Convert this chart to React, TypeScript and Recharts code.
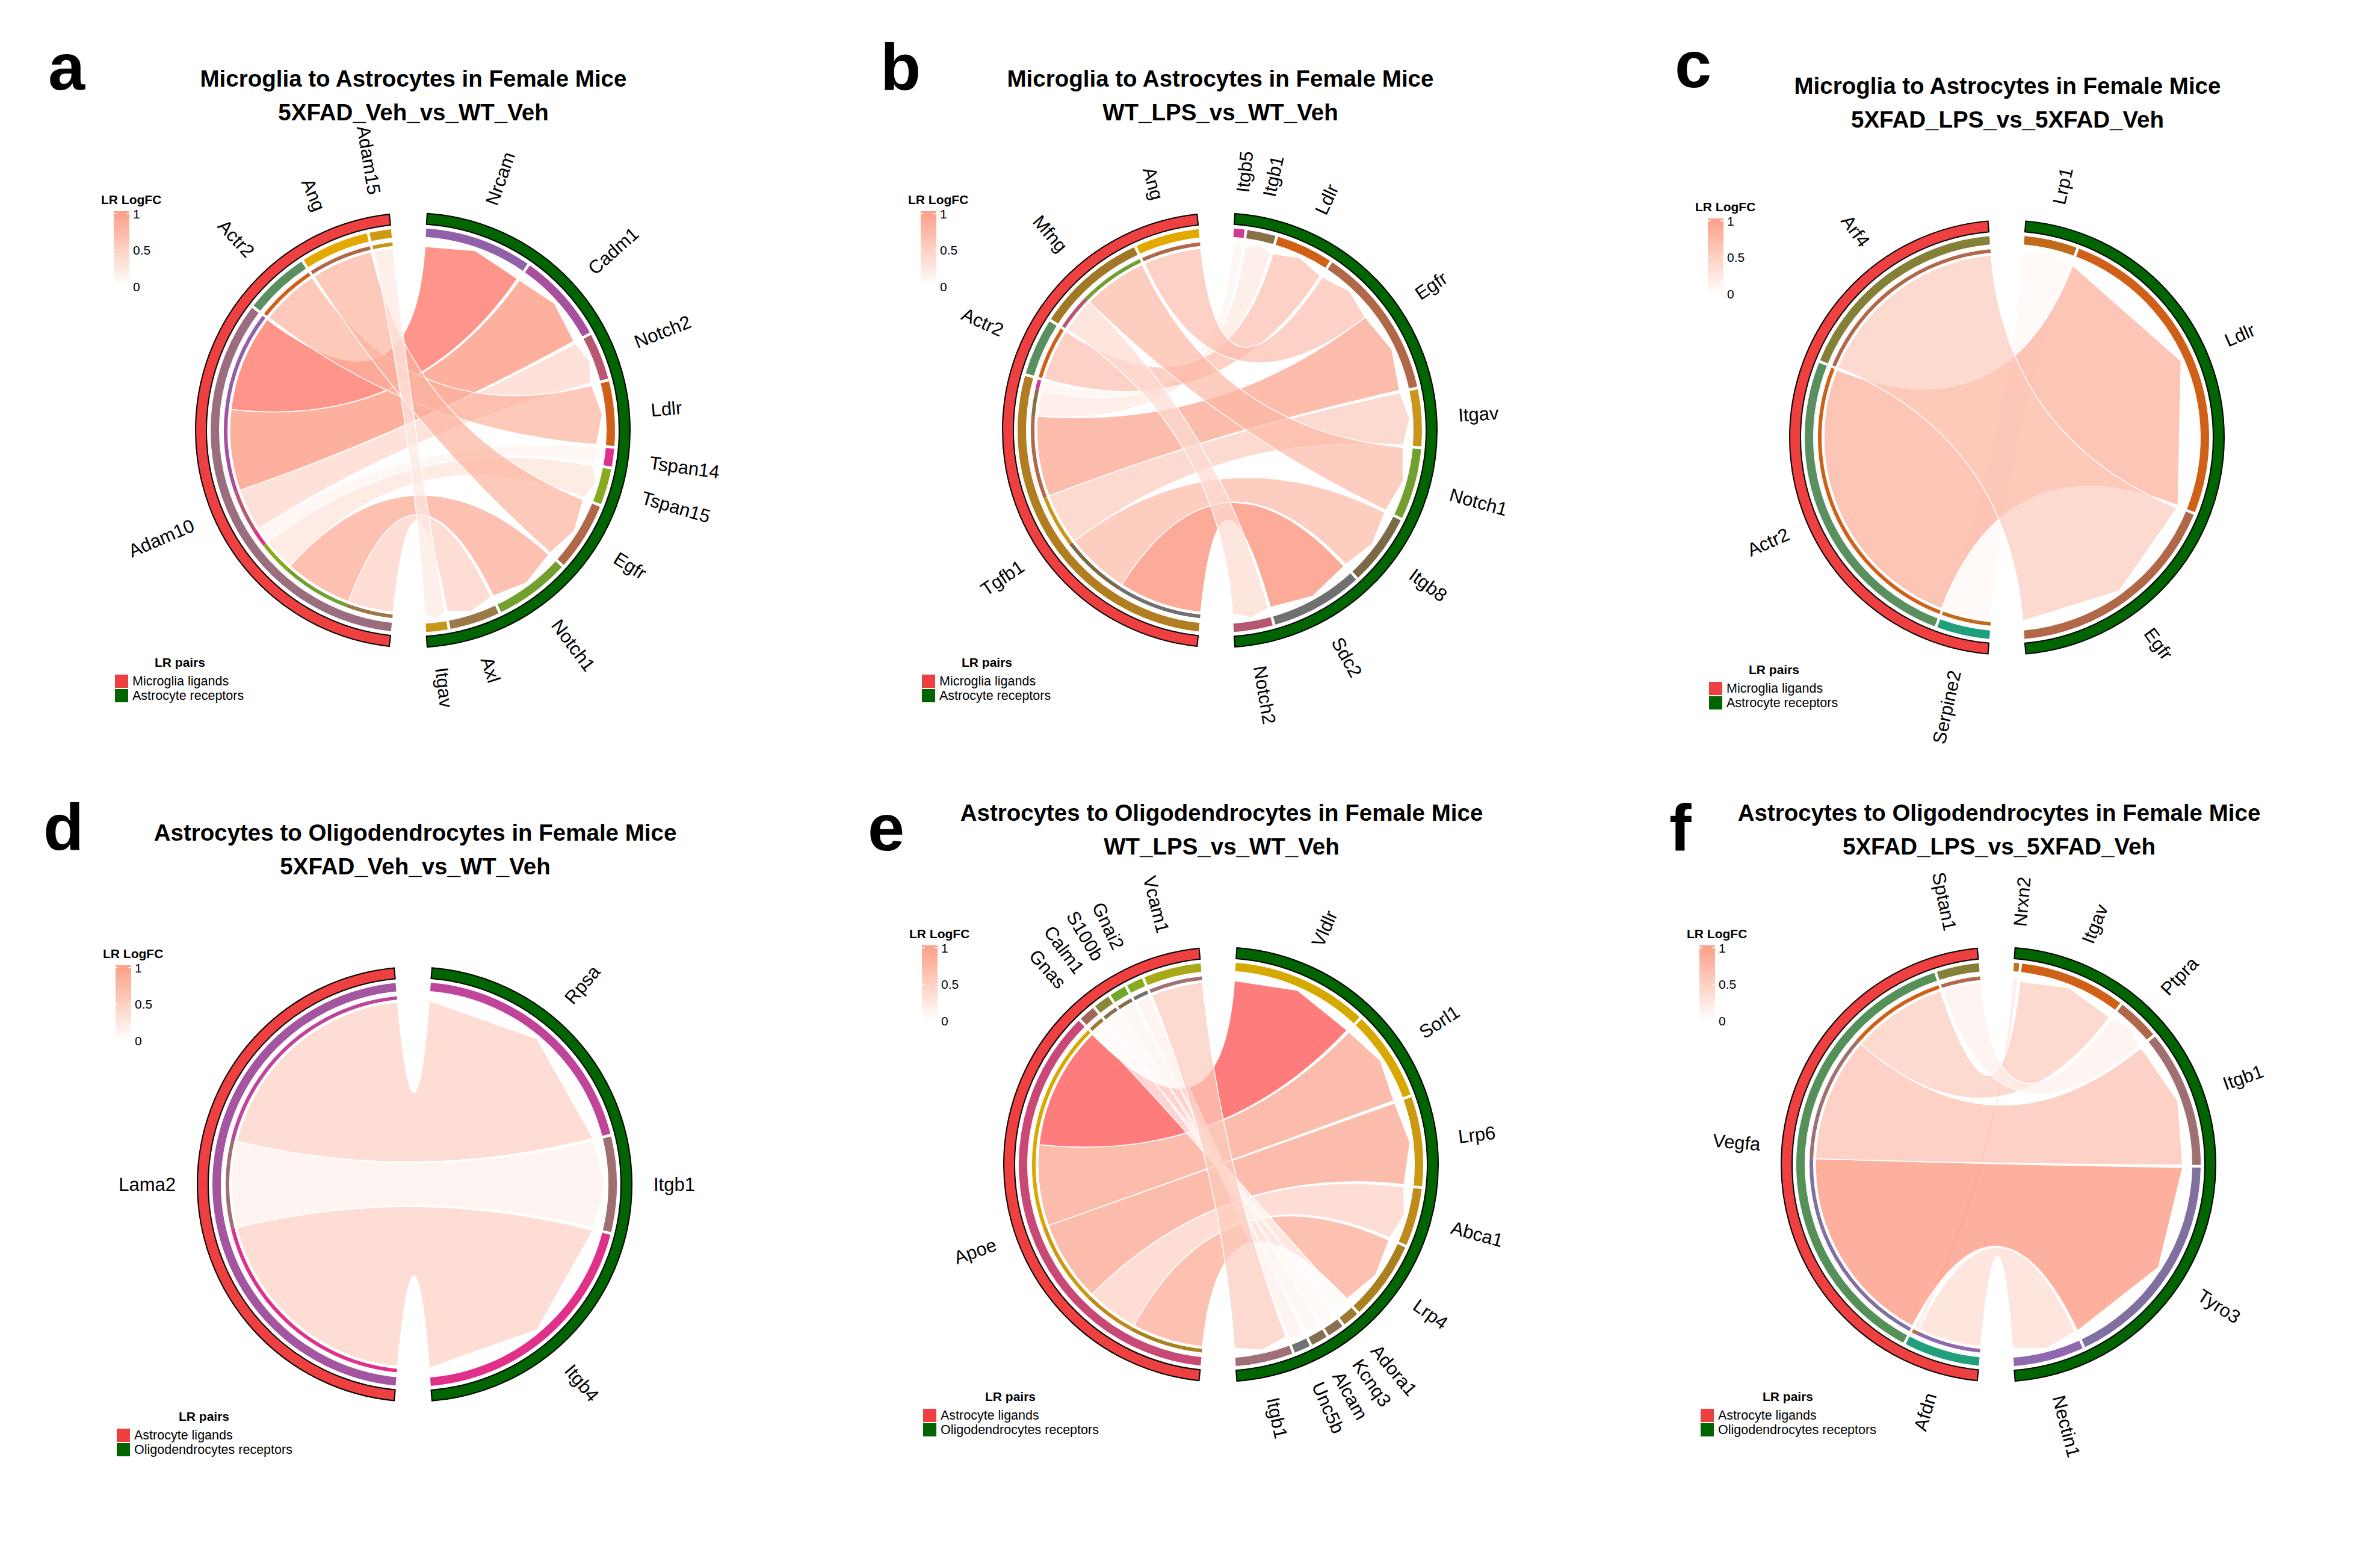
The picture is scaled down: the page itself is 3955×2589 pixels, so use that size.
import React from "react";
import { PieChart, Pie, Cell, Customized } from "recharts";

type Link = [string, string, number, number]; // ligand, receptor, width, LR logFC

const FONT = '"Liberation Sans", Arial, Helvetica, sans-serif';

// ---- a: Microglia -> Astrocytes, 5XFAD_Veh_vs_WT_Veh
const aLigands = ["Adam10", "Actr2", "Ang", "Adam15"];
const aLigandColors = ["#9A6E7E", "#5A9060", "#E3A900", "#D09A10"];
const aReceptors = ["Nrcam", "Cadm1", "Notch2", "Ldlr", "Tspan14", "Tspan15", "Egfr", "Notch1", "Axl", "Itgav"];
const aReceptorColors = ["#9060A8", "#A850A0", "#B85870", "#D06018", "#E0308A", "#88AA20", "#B06848", "#72A030", "#9A7A48", "#C8961A"];
const aLinks: Link[] = [
  ["Adam10", "Nrcam", 30, 1.5],
  ["Adam10", "Cadm1", 25, 0.95],
  ["Adam10", "Notch2", 13, 0.35],
  ["Adam10", "Tspan14", 5, 0.1],
  ["Adam10", "Tspan15", 10, 0.25],
  ["Adam10", "Notch1", 21, 0.75],
  ["Adam10", "Axl", 14, 0.4],
  ["Actr2", "Ldlr", 18, 0.65],
  ["Ang", "Egfr", 19, 0.65],
  ["Adam15", "Itgav", 6, 0.2],
];

// ---- b: Microglia -> Astrocytes, WT_LPS_vs_WT_Veh
const bLigands = ["Tgfb1", "Actr2", "Mfng", "Ang"];
const bLigandColors = ["#B07D20", "#5A9060", "#A07828", "#E3A900"];
const bReceptors = ["Itgb5", "Itgb1", "Ldlr", "Egfr", "Itgav", "Notch1", "Itgb8", "Sdc2", "Notch2"];
const bReceptorColors = ["#D03A90", "#8A7048", "#D06018", "#B06848", "#C8961A", "#72A030", "#7A6A48", "#707070", "#B85870"];
const bLinks: Link[] = [
  ["Tgfb1", "Sdc2", 26, 1.0],
  ["Tgfb1", "Itgb8", 20, 0.6],
  ["Tgfb1", "Itgav", 16, 0.45],
  ["Tgfb1", "Egfr", 25, 0.8],
  ["Tgfb1", "Itgb1", 8, 0.2],
  ["Tgfb1", "Itgb5", 3, 0.1],
  ["Actr2", "Ldlr", 16, 0.55],
  ["Mfng", "Notch2", 11, 0.3],
  ["Mfng", "Notch1", 20, 0.6],
  ["Ang", "Egfr", 18, 0.55],
];

// ---- c: Microglia -> Astrocytes, 5XFAD_LPS_vs_5XFAD_Veh
const cLigands = ["Serpine2", "Actr2", "Arf4"];
const cLigandColors = ["#1FA07A", "#5A9060", "#858038"];
const cReceptors = ["Lrp1", "Ldlr", "Egfr"];
const cReceptorColors = ["#C06A1A", "#D06018", "#B06848"];
const cLinks: Link[] = [
  ["Serpine2", "Lrp1", 15, 0.08],
  ["Actr2", "Ldlr", 90, 0.7],
  ["Arf4", "Egfr", 62, 0.45],
];

// ---- d: Astrocytes -> Oligodendrocytes, 5XFAD_Veh_vs_WT_Veh
const dLigands = ["Lama2"];
const dLigandColors = ["#A455A0"];
const dReceptors = ["Rpsa", "Itgb1", "Itgb4"];
const dReceptorColors = ["#C0459A", "#A07070", "#E0308A"];
const dLinks: Link[] = [
  ["Lama2", "Itgb4", 70, 0.4],
  ["Lama2", "Itgb1", 27, 0.12],
  ["Lama2", "Rpsa", 70, 0.4],
];

// ---- e: Astrocytes -> Oligodendrocytes, WT_LPS_vs_WT_Veh
const eLigands = ["Apoe", "Gnas", "Calm1", "S100b", "Gnai2", "Vcam1"];
const eLigandColors = ["#C84876", "#A06858", "#8A8838", "#70A828", "#88AA20", "#A8A818"];
const eReceptors = ["Vldlr", "Sorl1", "Lrp6", "Abca1", "Lrp4", "Adora1", "Kcnq3", "Alcam", "Unc5b", "Itgb1"];
const eReceptorColors = ["#D4AA00", "#D8A800", "#CC9A10", "#C08A1A", "#A8801E", "#A07830", "#887050", "#807050", "#707070", "#A07078"];
const eLinks: Link[] = [
  ["Apoe", "Lrp4", 22, 0.75],
  ["Apoe", "Abca1", 16, 0.4],
  ["Apoe", "Lrp6", 25, 0.8],
  ["Apoe", "Sorl1", 25, 0.8],
  ["Apoe", "Vldlr", 38, 2.0],
  ["Gnas", "Adora1", 4.5, 0.05],
  ["Calm1", "Kcnq3", 4.5, 0.08],
  ["S100b", "Alcam", 4.5, 0.1],
  ["Gnai2", "Unc5b", 4.5, 0.12],
  ["Vcam1", "Itgb1", 16, 0.45],
];

// ---- f: Astrocytes -> Oligodendrocytes, 5XFAD_LPS_vs_5XFAD_Veh
const fLigands = ["Afdn", "Vegfa", "Sptan1"];
const fLigandColors = ["#1FA07A", "#559058", "#858038"];
const fReceptors = ["Nrxn2", "Itgav", "Ptpra", "Itgb1", "Tyro3", "Nectin1"];
const fReceptorColors = ["#C07020", "#D06018", "#B06848", "#A07070", "#8070A0", "#9068B0"];
const fLinks: Link[] = [
  ["Afdn", "Nectin1", 20, 0.3],
  ["Afdn", "Nrxn2", 1.5, 0.2],
  ["Vegfa", "Tyro3", 63, 0.95],
  ["Vegfa", "Itgb1", 39, 0.55],
  ["Vegfa", "Itgav", 30, 0.45],
  ["Sptan1", "Ptpra", 12, 0.12],
];

const microgliaLegend = ["Microglia ligands", "Astrocyte receptors"];
const astroLegend = ["Astrocyte ligands", "Oligodendrocytes receptors"];
const logfcTicks = [1, 0.5, 0];

const panels = [
  { id: "a", cx: 686, cy: 715, lx: 80, ly: 149, title: "Microglia to Astrocytes in Female Mice", sub: "5XFAD_Veh_vs_WT_Veh", ligands: aLigands, ligandColors: aLigandColors, receptors: aReceptors, receptorColors: aReceptorColors, links: aLinks, legend: microgliaLegend, legendMid: -387 },
  { id: "b", cx: 2027, cy: 715, lx: 1463, ly: 149, title: "Microglia to Astrocytes in Female Mice", sub: "WT_LPS_vs_WT_Veh", ligands: bLigands, ligandColors: bLigandColors, receptors: bReceptors, receptorColors: bReceptorColors, links: bLinks, legend: microgliaLegend, legendMid: -387 },
  { id: "c", cx: 3335, cy: 727, lx: 2783, ly: 145, title: "Microglia to Astrocytes in Female Mice", sub: "5XFAD_LPS_vs_5XFAD_Veh", ligands: cLigands, ligandColors: cLigandColors, receptors: cReceptors, receptorColors: cReceptorColors, links: cLinks, legend: microgliaLegend, legendMid: -387 },
  { id: "d", cx: 689, cy: 1968, lx: 72, ly: 1412, title: "Astrocytes to Oligodendrocytes in Female Mice", sub: "5XFAD_Veh_vs_WT_Veh", ligands: dLigands, ligandColors: dLigandColors, receptors: dReceptors, receptorColors: dReceptorColors, links: dLinks, legend: astroLegend, legendMid: -350 },
  { id: "e", cx: 2029, cy: 1935, lx: 1442, ly: 1413, title: "Astrocytes to Oligodendrocytes in Female Mice", sub: "WT_LPS_vs_WT_Veh", ligands: eLigands, ligandColors: eLigandColors, receptors: eReceptors, receptorColors: eReceptorColors, links: eLinks, legend: astroLegend, legendMid: -350 },
  { id: "f", cx: 3321, cy: 1935, lx: 2774, ly: 1413, title: "Astrocytes to Oligodendrocytes in Female Mice", sub: "5XFAD_LPS_vs_5XFAD_Veh", ligands: fLigands, ligandColors: fLigandColors, receptors: fReceptors, receptorColors: fReceptorColors, links: fLinks, legend: astroLegend, legendMid: -350 },
];

const BIG_GAP = 10;
const SMALL_GAP = 0.8;
const LIG_RED = "#EE4040";
const REC_GREEN = "#006400";

// compass angle (0 = 12 o'clock, clockwise)
const polar = (cx: number, cy: number, r: number, t: number) => [
  cx + r * Math.sin((t * Math.PI) / 180),
  cy - r * Math.cos((t * Math.PI) / 180),
];

function layoutPanel(p: any) {
  const W = p.links.reduce((s: number, l: Link) => s + l[2], 0);
  const nGaps = p.ligands.length - 1 + p.receptors.length - 1;
  const u = (360 - 2 * BIG_GAP - nGaps * SMALL_GAP) / (2 * W);
  const sumFor = (k: number, name: string) =>
    p.links.filter((l: Link) => l[k] === name).reduce((s: number, l: Link) => s + l[2], 0);
  const ligSpan = W * u + (p.ligands.length - 1) * SMALL_GAP;
  const recSpan = W * u + (p.receptors.length - 1) * SMALL_GAP;

  let pos = 270 - ligSpan / 2;
  const lig = p.ligands.map((name: string, i: number) => {
    const start = pos;
    const end = start + sumFor(0, name) * u;
    pos = end + SMALL_GAP;
    return { name, start, end, color: p.ligandColors[i] };
  });
  pos = 90 - recSpan / 2;
  const rec = p.receptors.map((name: string, i: number) => {
    const start = pos;
    const end = start + sumFor(1, name) * u;
    pos = end + SMALL_GAP;
    return { name, start, end, color: p.receptorColors[i] };
  });

  const ends = p.links.map(() => ({ a0: 0, a1: 0, b0: 0, b1: 0 }));
  const indexed = p.links.map((l: Link, i: number) => ({ l, i }));
  lig.forEach((s: any) => {
    let t = s.start;
    indexed
      .filter((o: any) => o.l[0] === s.name)
      .sort((x: any, y: any) => p.receptors.indexOf(y.l[1]) - p.receptors.indexOf(x.l[1]))
      .forEach((o: any) => {
        ends[o.i].a0 = t;
        t += o.l[2] * u;
        ends[o.i].a1 = t;
      });
  });
  rec.forEach((s: any) => {
    let t = s.start;
    indexed
      .filter((o: any) => o.l[1] === s.name)
      .sort((x: any, y: any) => p.ligands.indexOf(y.l[0]) - p.ligands.indexOf(x.l[0]))
      .forEach((o: any) => {
        ends[o.i].b0 = t;
        t += o.l[2] * u;
        ends[o.i].b1 = t;
      });
  });
  return { lig, rec, ends };
}

// turn [start,end] arcs into Pie entries (in degrees) with invisible gaps
function ringData(segs: { name: string; start: number; end: number; fill: string; stroke?: string }[]) {
  const sorted = [...segs].sort((a, b) => a.start - b.start);
  const out: any[] = [];
  let cur = 0;
  sorted.forEach((s, i) => {
    if (s.start - cur > 1e-6) out.push({ name: `gap${i}`, value: s.start - cur, fill: "none", stroke: "none" });
    out.push({ name: s.name, value: s.end - s.start, fill: s.fill, stroke: s.stroke || "none" });
    cur = s.end;
  });
  if (360 - cur > 1e-6) out.push({ name: "gapEnd", value: 360 - cur, fill: "none", stroke: "none" });
  return out;
}

const ALPHA = 0.7;
const FC_STOPS: [number, number[]][] = [
  [0, [255, 255, 255]],
  [0.5, [253, 214, 202]],
  [1, [252, 172, 152]],
  [2, [255, 125, 125]],
];
function chordFill(v: number) {
  const x = Math.max(0, Math.min(2, v));
  let k = 0;
  while (k < FC_STOPS.length - 2 && x > FC_STOPS[k + 1][0]) k++;
  const [v0, c0] = FC_STOPS[k];
  const [v1, c1] = FC_STOPS[k + 1];
  const f = (x - v0) / (v1 - v0);
  const shown = c0.map((c, j) => c + (c1[j] - c) * f);
  const base = shown.map((c) => Math.max(0, Math.round(255 - (255 - c) / ALPHA)));
  return `rgb(${base[0]},${base[1]},${base[2]})`;
}

const layouts = panels.map(layoutPanel);

const R_OUT = [343, 361];
const R_GENE = [322, 336];
const R_THIN = [308, 314];
const R_LIG_END = 304;
const R_REC_EDGE = 306;
const R_REC_TIP = 316;
const R_LABEL = 397;

function chordPath(cx: number, cy: number, e: any) {
  const [x0, y0] = polar(cx, cy, R_LIG_END, e.a0);
  const [x1, y1] = polar(cx, cy, R_LIG_END, e.a1);
  const [u0x, u0y] = polar(cx, cy, R_REC_EDGE, e.b0);
  const [u1x, u1y] = polar(cx, cy, R_REC_EDGE, e.b1);
  const [tx, ty] = polar(cx, cy, R_REC_TIP, (e.b0 + e.b1) / 2);
  const large = e.a1 - e.a0 > 180 ? 1 : 0;
  return `M${x0},${y0} A${R_LIG_END},${R_LIG_END} 0 ${large} 1 ${x1},${y1} Q${cx},${cy} ${u0x},${u0y} L${tx},${ty} L${u1x},${u1y} Q${cx},${cy} ${x0},${y0} Z`;
}

const PanelOverlay = ({ p, L }: any) => {
  const { cx, cy } = p;
  const fcY = (v: number) => cy - 239 - v * 121;
  return (
    <g>
      {p.links.map((l: Link, i: number) => (
        <path key={`c${i}`} d={chordPath(cx, cy, L.ends[i])} fill={chordFill(l[3])} fillOpacity={ALPHA} stroke="#fff" strokeWidth={1.5} />
      ))}
      {[...L.lig, ...L.rec].map((s: any) => {
        const mid = (s.start + s.end) / 2;
        const [x, y] = polar(cx, cy, R_LABEL, mid);
        const right = mid < 180;
        return (
          <text key={`t${s.name}`} x={x} y={y} transform={`rotate(${right ? mid - 90 : mid - 270} ${x} ${y})`} textAnchor={right ? "start" : "end"} dominantBaseline="central" fontSize={31} fontFamily={FONT} fill="#000">
            {s.name}
          </text>
        );
      })}
      <text x={p.lx} y={p.ly} fontSize={110} fontWeight={700} fontFamily={FONT} fill="#000">{p.id}</text>
      <text x={cx + 1} y={cy - 571} textAnchor="middle" fontSize={38.5} fontWeight={700} fontFamily={FONT} fill="#000">{p.title}</text>
      <text x={cx + 1} y={cy - 515} textAnchor="middle" fontSize={38.5} fontWeight={700} fontFamily={FONT} fill="#000">{p.sub}</text>

      <text x={cx - 518} y={cy - 376} fontSize={21} fontWeight={700} fontFamily={FONT} fill="#000">LR LogFC</text>
      <rect x={cx - 497} y={cy - 364} width={26} height={125} fill="url(#lfcGrad)" />
      {logfcTicks.map((v) => (
        <g key={`k${v}`}>
          <line x1={cx - 497} x2={cx - 492} y1={fcY(v)} y2={fcY(v)} stroke="#fff" strokeWidth={1.5} />
          <line x1={cx - 476} x2={cx - 471} y1={fcY(v)} y2={fcY(v)} stroke="#fff" strokeWidth={1.5} />
          <text x={cx - 465} y={fcY(v)} dominantBaseline="central" fontSize={21} fontFamily={FONT} fill="#000">{v}</text>
        </g>
      ))}

      <text x={cx + p.legendMid} y={cy + 393} textAnchor="middle" fontSize={21} fontWeight={700} fontFamily={FONT} fill="#000">LR pairs</text>
      {p.legend.map((name: string, i: number) => (
        <g key={`lg${i}`}>
          <rect x={cx - 495} y={cy + 406 + i * 24} width={22} height={22} fill={i === 0 ? LIG_RED : REC_GREEN} />
          <text x={cx - 466} y={cy + 417 + i * 24} dominantBaseline="central" fontSize={21.5} fontFamily={FONT} fill="#000">{name}</text>
        </g>
      ))}
    </g>
  );
};

const Overlay = () => (
  <g>
    <defs>
      <linearGradient id="lfcGrad" x1="0" y1="0" x2="0" y2="1">
        <stop offset="0" stopColor="#FC9F86" />
        <stop offset="0.5" stopColor="#FDCFC1" />
        <stop offset="1" stopColor="#FFFFFF" />
      </linearGradient>
    </defs>
    {panels.map((p, i) => (
      <PanelOverlay key={p.id} p={p} L={layouts[i]} />
    ))}
  </g>
);

function ringPie(key: string, cx: number, cy: number, r: number[], data: any[], sw: number) {
  return (
    <Pie key={key} data={data} dataKey="value" nameKey="name" cx={cx} cy={cy} innerRadius={r[0]} outerRadius={r[1]} startAngle={90} endAngle={-270} isAnimationActive={false} stroke="none">
      {data.map((d, i) => (
        <Cell key={i} fill={d.fill} stroke={d.stroke} strokeWidth={sw} />
      ))}
    </Pie>
  );
}

export default function App() {
  return (
    <div style={{ position: "absolute", left: 0, top: 0, width: 3955, height: 2589, background: "#fff" }}>
      <PieChart width={3955} height={2589} margin={{ top: 0, right: 0, bottom: 0, left: 0 }}>
        {panels.map((p, pi) => {
          const L = layouts[pi];
          const ligStart = L.lig[0].start;
          const ligEnd = L.lig[L.lig.length - 1].end;
          const recStart = L.rec[0].start;
          const recEnd = L.rec[L.rec.length - 1].end;
          const outer = ringData([
            { name: "ligands", start: ligStart, end: ligEnd, fill: LIG_RED, stroke: "#000" },
            { name: "receptors", start: recStart, end: recEnd, fill: REC_GREEN, stroke: "#000" },
          ]);
          const gene = ringData([
            ...L.lig.map((s: any) => ({ name: s.name, start: s.start, end: s.end, fill: s.color })),
            ...L.rec.map((s: any) => ({ name: s.name, start: s.start, end: s.end, fill: s.color })),
          ]);
          const thin = ringData(
            p.links.map((l: Link, i: number) => ({
              name: `${l[0]}-${l[1]}`,
              start: L.ends[i].a0,
              end: L.ends[i].a1,
              fill: p.receptorColors[p.receptors.indexOf(l[1])],
            }))
          );
          return [
            ringPie(`o${p.id}`, p.cx, p.cy, R_OUT, outer, 2),
            ringPie(`g${p.id}`, p.cx, p.cy, R_GENE, gene, 0),
            ringPie(`t${p.id}`, p.cx, p.cy, R_THIN, thin, 0),
          ];
        })}
        <Customized component={Overlay} />
      </PieChart>
    </div>
  );
}
